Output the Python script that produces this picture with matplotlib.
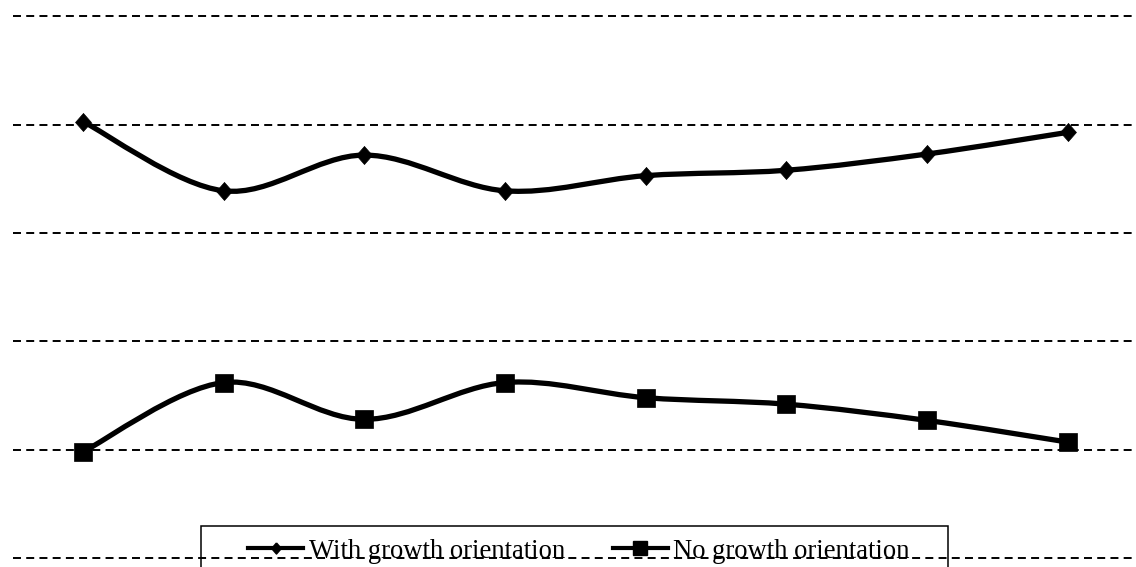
import numpy as np
import matplotlib
matplotlib.use("Agg")
import matplotlib.pyplot as plt
from matplotlib.path import Path
from matplotlib.patches import PathPatch, Rectangle
from matplotlib.lines import Line2D

# data
categories = [1, 2, 3, 4, 5, 6, 7, 8]
with_orientation = [4.03, 3.39, 3.72, 3.39, 3.53, 3.58, 3.73, 3.93]
no_orientation = [0.98, 1.62, 1.28, 1.62, 1.48, 1.42, 1.27, 1.07]
grid_levels = [0, 1, 2, 3, 4, 5]
labels = ["With growth orientation", "No growth orientation"]

plt.rcParams['font.family'] = ['Liberation Serif', 'DejaVu Serif']

# slightly tall diamond, like the office-chart marker
diamond = [(0, 1), (0.88, 0), (0, -1), (-0.88, 0), (0, 1)]


def smooth_path(xs, ys):
    # Catmull-Rom curve written as cubic Bezier segments
    pts = np.column_stack([xs, ys]).astype(float)
    n = len(pts)
    verts = [pts[0]]
    codes = [Path.MOVETO]
    for i in range(n - 1):
        p0 = pts[max(i - 1, 0)]
        p1 = pts[i]
        p2 = pts[i + 1]
        p3 = pts[min(i + 2, n - 1)]
        c1 = p1 + (p2 - p0) / 6.0
        c2 = p2 - (p3 - p1) / 6.0
        verts += [c1, c2, p2]
        codes += [Path.CURVE4] * 3
    return Path(verts, codes)


fig = plt.figure(figsize=(11.36, 5.67), dpi=100)
ax = fig.add_axes([0.0111, -0.0032, 0.9908, 0.9933])

x = np.arange(len(categories))
ax.set_xlim(-0.5, len(categories) - 0.5)
ax.set_ylim(-0.1, 5.1)

ax.set_yticks(grid_levels)
ax.set_xticks([])
ax.yaxis.grid(True, linestyle=(0, (4.1, 2.7)), linewidth=1.4, color='black')
ax.tick_params(length=0, labelleft=False)
ax.set_axisbelow(True)
for s in ax.spines.values():
    s.set_visible(False)

for series, mk, ms in [(with_orientation, diamond, 13), (no_orientation, 's', 13.3)]:
    ax.add_patch(PathPatch(smooth_path(x, series), fill=False, edgecolor='black',
                           linewidth=3.8, capstyle='round', joinstyle='round', zorder=3))
    ax.plot(x, series, linestyle='none', marker=mk, markersize=ms,
            color='black', markeredgewidth=0.5, zorder=4)

# legend
handles = [
    Line2D([], [], color='black', linewidth=3, marker=diamond, markersize=8),
    Line2D([], [], color='black', linewidth=3, marker='s', markersize=9.5),
]
fig.legend(handles, labels, loc='center left', bbox_to_anchor=(248 / 1136, 1 - 551 / 567),
           ncol=2, frameon=False, fontsize=19.2, borderpad=0, borderaxespad=0,
           handlelength=2.07, handletextpad=0.2, columnspacing=1.8)
fig.patches.append(Rectangle((201 / 1136, -0.1), (948 - 201) / 1136, 0.1 + 1 - 526 / 567,
                             transform=fig.transFigure, fill=False, edgecolor='black',
                             linewidth=1.1, zorder=5))

fig.savefig('out.png', dpi=100)
